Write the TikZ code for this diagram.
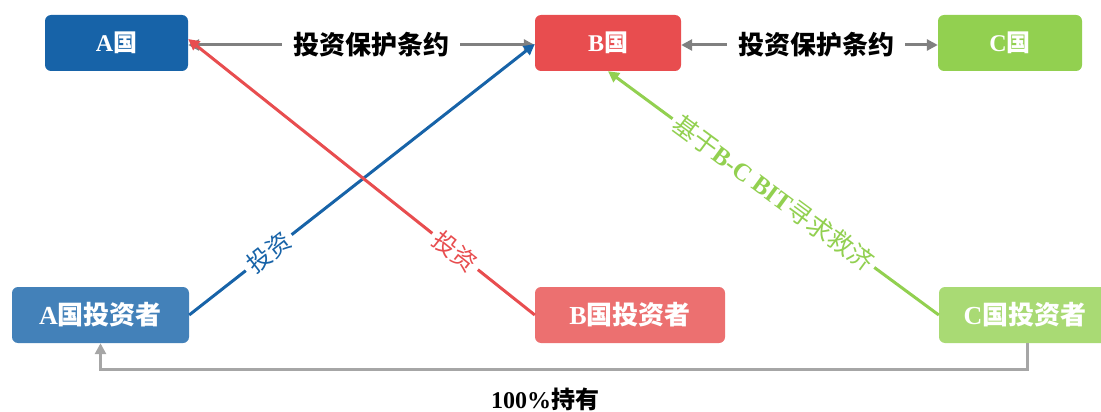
\documentclass[tikz,border=0pt]{standalone}
\usepackage{fontspec}
\setmainfont{Liberation Serif}
\newfontfamily\cjk{Noto Sans CJK SC}
\newcommand{\zh}[1]{{\cjk #1}}
\usetikzlibrary{arrows.meta}
\definecolor{ablue}{HTML}{1763A8}
\definecolor{ablueL}{HTML}{4381B9}
\definecolor{bred}{HTML}{E84D4F}
\definecolor{bredL}{HTML}{EC7070}
\definecolor{cgreen}{HTML}{92D050}
\definecolor{cgreenL}{HTML}{A9DA74}
\definecolor{arrgray}{HTML}{808080}
\definecolor{lgray}{HTML}{A6A6A6}
\tikzset{
  box/.style={rounded corners=6pt, minimum height=56pt, inner sep=0pt, text=white,
    font=\fontsize{24}{28}\selectfont\bfseries},
  bigbox/.style={box, font=\fontsize{26}{30}\selectfont\bfseries},
  tipa/.style={-{Triangle[length=11pt,width=11pt]}},
  conn/.style={line width=3pt},
  lbl/.style={fill=white, inner sep=5pt, sloped, font=\fontsize{24}{28}\selectfont},
  treaty/.style={inner sep=0pt, font=\fontsize{26}{30}\selectfont\bfseries}
}
\begin{document}
\begin{tikzpicture}[x=1pt,y=-1pt]
\useasboundingbox (0,0) rectangle (1101,412);
% top boxes
\node[box, fill=ablue, minimum width=143pt] (A) at (116.5,43) {A\zh{国}};
\node[box, fill=bred, minimum width=146pt] (B) at (608,43) {B\zh{国}};
\node[box, fill=cgreen, minimum width=144pt] (C) at (1010,43) {C\zh{国}};
% bottom boxes
\node[bigbox, fill=ablueL, minimum width=177pt] (AI) at (100.5,315) {A\zh{国投资者}};
\node[bigbox, fill=bredL, minimum width=190pt] (BI) at (630,315) {B\zh{国投资者}};
\node[bigbox, fill=cgreenL, minimum width=172pt] (CI) at (1025,315) {C\zh{国投资者}};
% treaties
\node[treaty] (T1) at (371,45) {\zh{投资保护条约}};
\node[treaty] (T2) at (816,45) {\zh{投资保护条约}};
\draw[conn, arrgray, tipa, shorten <=11pt] (T1.west) -- (A.east |- T1.west);
\draw[conn, arrgray, tipa, shorten <=11pt] (T1.east) -- (B.west |- T1.east);
\draw[conn, arrgray, tipa, shorten <=11pt] (T2.west) -- (B.east |- T2.west);
\draw[conn, arrgray, tipa, shorten <=11pt] (T2.east) -- (C.west |- T2.east);
% investments
\draw[conn, ablue, tipa] (AI.east) -- node[lbl, pos=0.23, text=ablue] {\zh{投资}} ([yshift=-1pt]B.west);
\draw[conn, bred, tipa] (BI.west) -- node[lbl, pos=0.23, text=bred] {\zh{投资}} ([yshift=4pt]A.east);
\draw[conn, cgreen, tipa] (CI.west) -- node[lbl, pos=0.5, text=cgreen, inner sep=4pt, font=\fontsize{25}{29}\selectfont] {\zh{基于}\textbf{B-C BIT}\zh{寻求救济}} (B.south);
% holding
\draw[conn, lgray, tipa] (1027,343) -- ++(0,26) -| (AI.south);
\node[font=\fontsize{24}{28}\selectfont\bfseries] (H) at (545,399) {100\%\zh{持有}};
\end{tikzpicture}
\end{document}
